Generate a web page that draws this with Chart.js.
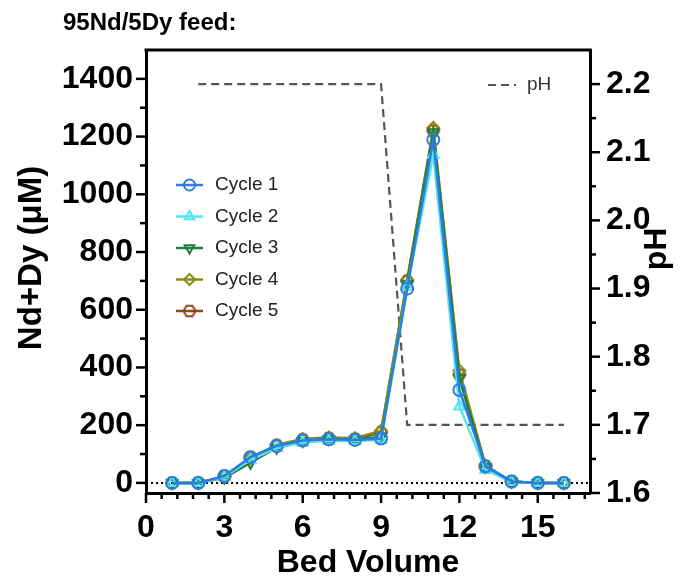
<!DOCTYPE html>
<html>
<head>
<meta charset="utf-8">
<script src="https://cdn.jsdelivr.net/npm/chart.js@4.4.1/dist/chart.umd.min.js"></script>
<style>
html, body { margin: 0; padding: 0; background: #fff; }
</style>
</head>
<body>
<canvas id="chart" width="691" height="580"></canvas>
<script>
const bedVolume = [1, 2, 3, 4, 5, 6, 7, 8, 9, 10, 11, 12, 13, 14, 15, 16];
const cycle1 = [0, 0, 24, 89, 128, 147, 151, 149, 154, 673, 1189, 322, 57, 5, 0, 0];
const cycle2 = [0, 0, 20, 80, 121, 140, 146, 145, 150, 680, 1137, 265, 45, 3, 0, 0];
const cycle3 = [0, 0, 18, 70, 122, 145, 152, 150, 160, 690, 1215, 363, 55, 4, 0, 0];
const cycle4 = [0, 0, 22, 85, 132, 152, 158, 155, 181, 703, 1230, 389, 60, 5, 0, 0];
const cycle5 = [0, 0, 22, 88, 130, 150, 155, 152, 175, 700, 1220, 375, 58, 5, 0, 0];

const phX = [2, 9, 10, 16];
const phY = [2.2, 2.2, 1.7, 1.7];

const xTicks = [0, 3, 6, 9, 12, 15];
const yTicks = [0, 200, 400, 600, 800, 1000, 1200, 1400];
const phTicks = [1.6, 1.7, 1.8, 1.9, 2.0, 2.1, 2.2];

const FONT = "'Liberation Sans', Arial, sans-serif";
const tickFont = { family: FONT, size: 32, weight: 'bold' };

function hexagon(color, r) {
    const c = document.createElement('canvas');
    const s = r * 2 + 4;
    c.width = s;
    c.height = s;
    const g = c.getContext('2d');
    g.strokeStyle = color;
    g.lineWidth = 2;
    g.beginPath();
    for (let i = 0; i < 6; i++) {
        const a = Math.PI / 3 * i;
        const px = s / 2 + r * Math.cos(a), py = s / 2 + r * Math.sin(a);
        if (i) g.lineTo(px, py); else g.moveTo(px, py);
    }
    g.closePath();
    g.stroke();
    return c;
}

function series(label, values, color, style, rotation) {
    return {
        label,
        data: bedVolume.map((x, i) => ({ x, y: values[i] })),
        borderColor: color,
        backgroundColor: 'rgba(0,0,0,0)',
        borderWidth: 2.5,
        pointStyle: style,
        pointRotation: rotation || 0,
        pointRadius: 6,
        pointBorderWidth: 2,
        pointBorderColor: color,
        pointBackgroundColor: 'rgba(0,0,0,0)',
        tension: 0,
        yAxisID: 'y'
    };
}

const cycles = [
    series('Cycle 1', cycle1, '#2b7ddf', 'circle'),
    series('Cycle 2', cycle2, '#55e4f0', 'triangle'),
    series('Cycle 3', cycle3, '#1f7d3e', 'triangle', 180),
    series('Cycle 4', cycle4, '#8a8a1c', 'rectRot'),
    series('Cycle 5', cycle5, '#8b4a1a', hexagon('#8b4a1a', 6))
];

const phSet = {
    label: 'pH',
    data: phX.map((x, i) => ({ x, y: phY[i] })),
    borderColor: '#555',
    borderWidth: 2.2,
    borderDash: [8, 5],
    pointRadius: 0,
    fill: false,
    yAxisID: 'y1'
};

function line(ctx, x1, y1, x2, y2) {
    ctx.beginPath();
    ctx.moveTo(x1, y1);
    ctx.lineTo(x2, y2);
    ctx.stroke();
}

function vText(ctx, text, x, y) {
    ctx.save();
    ctx.translate(x, y);
    ctx.rotate(-Math.PI / 2);
    ctx.fillText(text, 0, 0);
    ctx.restore();
}

const decorations = {
    id: 'decorations',
    beforeDatasetsDraw(chart) {
        const { ctx, chartArea: a, scales: { y } } = chart;
        const y0 = y.getPixelForValue(0);
        ctx.save();
        ctx.strokeStyle = '#000';
        ctx.lineWidth = 2;
        ctx.setLineDash([2, 3]);
        line(ctx, a.left, y0, a.right, y0);
        ctx.restore();
    },
    afterDraw(chart) {
        const { ctx, chartArea: a, scales: { x, y, y1 } } = chart;
        ctx.save();
        ctx.strokeStyle = '#000';
        ctx.lineWidth = 3;
        line(ctx, a.left - 1.5, a.top, a.right + 1.5, a.top);

        // tick marks
        ctx.lineWidth = 2.5;
        for (let i = 0; i <= 28; i++) {
            const px = x.getPixelForValue(i * 0.6);
            line(ctx, px, a.bottom, px, a.bottom + (i % 5 === 0 ? 10 : 6));
        }
        for (let i = 0; i <= 14; i++) {
            const py = y.getPixelForValue(i * 100);
            line(ctx, a.left, py, a.left - (i % 2 === 0 ? 10 : 6), py);
        }
        for (let i = 0; i <= 12; i++) {
            const py = y1.getPixelForValue(1.6 + i * 0.05);
            line(ctx, a.right, py, a.right + (i % 2 === 0 ? 10 : 6), py);
        }

        // axis titles
        ctx.fillStyle = '#000';
        ctx.font = `bold 33px ${FONT}`;
        ctx.textAlign = 'center';
        ctx.textBaseline = 'middle';
        vText(ctx, 'Nd+Dy (μM)', 32, 258);
        ctx.font = `bold 32px ${FONT}`;
        vText(ctx, 'pH', 657, 249);

        // heading
        ctx.font = `bold 24px ${FONT}`;
        ctx.textAlign = 'left';
        ctx.textBaseline = 'alphabetic';
        ctx.fillText('95Nd/5Dy feed:', 63, 30);

        // cycle legend
        ctx.font = `19px ${FONT}`;
        ctx.textBaseline = 'middle';
        cycles.forEach((ds, i) => {
            const cy = 185 + i * 31.5;
            ctx.strokeStyle = ds.borderColor;
            ctx.lineWidth = 2.5;
            ctx.setLineDash([]);
            line(ctx, 176, cy, 203, cy);
            ctx.fillStyle = 'rgba(0,0,0,0)';
            ctx.lineWidth = 2;
            Chart.helpers.drawPoint(ctx, {
                pointStyle: ds.pointStyle,
                rotation: ds.pointRotation,
                radius: 5.5,
                borderWidth: 2
            }, 189.5, cy);
            ctx.fillStyle = '#222';
            ctx.fillText(ds.label, 215, cy);
        });

        // pH legend
        ctx.strokeStyle = '#555';
        ctx.lineWidth = 2.2;
        ctx.setLineDash([8, 5]);
        line(ctx, 488, 85, 516, 85);
        ctx.setLineDash([]);
        ctx.fillStyle = '#333';
        ctx.fillText('pH', 527, 85);
        ctx.restore();
    }
};

new Chart(document.querySelector('#chart'), {
    type: 'line',
    data: { datasets: [...cycles, phSet] },
    plugins: [decorations],
    options: {
        responsive: false,
        animation: false,
        layout: { padding: { top: 50, left: 0, right: 0, bottom: 0 } },
        plugins: {
            legend: { display: false },
            tooltip: { enabled: false }
        },
        scales: {
            x: {
                type: 'linear',
                min: 0,
                max: 17,
                afterFit: s => { s.height = 87; },
                afterBuildTicks: s => { s.ticks = xTicks.map(v => ({ value: v })); },
                grid: { display: false, drawTicks: false },
                border: { display: true, color: '#000', width: 3 },
                ticks: { color: '#000', font: tickFont, padding: 16, autoSkip: false, maxRotation: 0, callback: v => String(v) },
                title: {
                    display: true,
                    text: 'Bed Volume',
                    color: '#000',
                    font: { family: FONT, size: 32, weight: 'bold', lineHeight: 1 },
                    padding: { top: 0, bottom: 1 }
                }
            },
            y: {
                type: 'linear',
                position: 'left',
                min: -35,
                max: 1500,
                afterFit: s => { s.width = 146; },
                afterBuildTicks: s => { s.ticks = yTicks.map(v => ({ value: v })); },
                grid: { display: false, drawTicks: false },
                border: { display: true, color: '#000', width: 3 },
                ticks: { color: '#000', font: tickFont, padding: 13, callback: v => String(v) }
            },
            y1: {
                type: 'linear',
                position: 'right',
                min: 1.6,
                max: 2.25,
                afterFit: s => { s.width = 101; },
                afterBuildTicks: s => { s.ticks = phTicks.map(v => ({ value: v })); },
                grid: { display: false, drawTicks: false },
                border: { display: true, color: '#000', width: 3 },
                ticks: { color: '#000', font: tickFont, padding: 16, callback: v => v.toFixed(1) }
            }
        }
    }
});
</script>
</body>
</html>
